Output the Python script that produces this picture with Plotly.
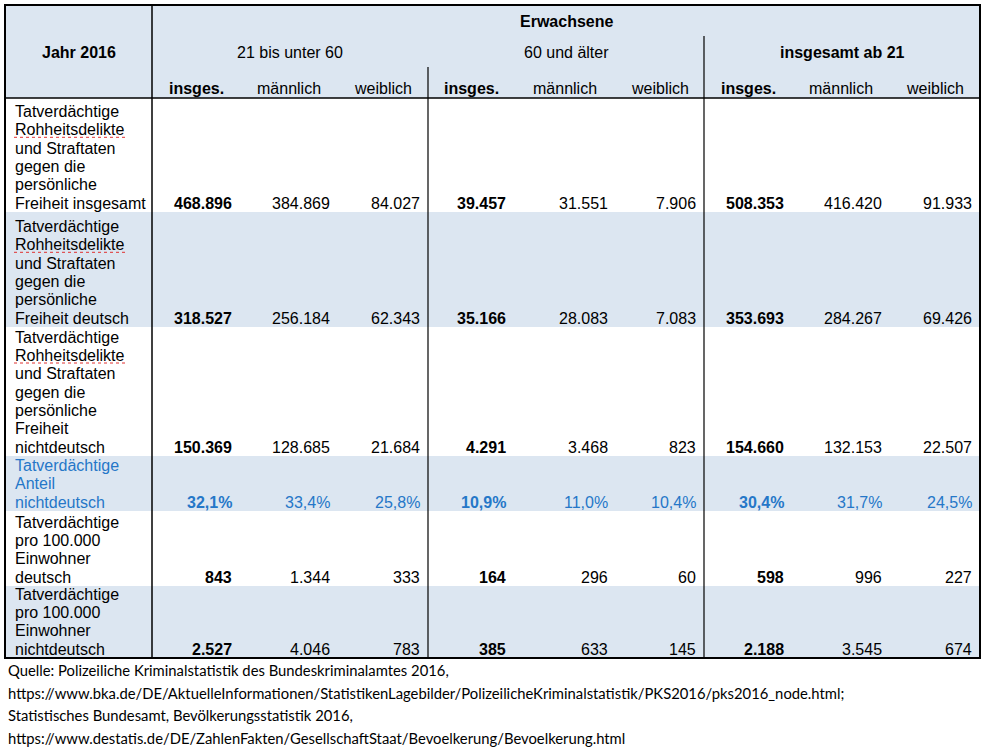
import plotly.graph_objects as go

# =========================
# DATEN
# =========================
gruppen = ["21 bis unter 60", "60 und älter", "insgesamt ab 21"]
unterspalten = ["insges.", "männlich", "weiblich"]

zeilen_text = [
    ["Tatverdächtige", "Rohheitsdelikte", "und Straftaten", "gegen die", "persönliche", "Freiheit insgesamt"],
    ["Tatverdächtige", "Rohheitsdelikte", "und Straftaten", "gegen die", "persönliche", "Freiheit deutsch"],
    ["Tatverdächtige", "Rohheitsdelikte", "und Straftaten", "gegen die", "persönliche", "Freiheit", "nichtdeutsch"],
    ["Tatverdächtige", "Anteil", "nichtdeutsch"],
    ["Tatverdächtige", "pro 100.000", "Einwohner", "deutsch"],
    ["Tatverdächtige", "pro 100.000", "Einwohner", "nichtdeutsch"],
]

tv_insgesamt = [468896, 384869, 84027, 39457, 31551, 7906, 508353, 416420, 91933]
tv_deutsch = [318527, 256184, 62343, 35166, 28083, 7083, 353693, 284267, 69426]
tv_nichtdeutsch = [150369, 128685, 21684, 4291, 3468, 823, 154660, 132153, 22507]
anteil_nichtdeutsch = [32.1, 33.4, 25.8, 10.9, 11.0, 10.4, 30.4, 31.7, 24.5]
pro100k_deutsch = [843, 1344, 333, 164, 296, 60, 598, 996, 227]
pro100k_nichtdeutsch = [2527, 4046, 783, 385, 633, 145, 2188, 3545, 674]

quelle = [
    "Quelle: Polizeiliche Kriminalstatistik des Bundeskriminalamtes 2016,",
    "https://www.bka.de/DE/AktuelleInformationen/StatistikenLagebilder/PolizeilicheKriminalstatistik/PKS2016/pks2016_node.html;",
    "Statistisches Bundesamt, Bevölkerungsstatistik 2016,",
    "https://www.destatis.de/DE/ZahlenFakten/GesellschaftStaat/Bevoelkerung/Bevoelkerung.html",
]


def fmt_zahl(v):
    return f"{v:,}".replace(",", ".")


def fmt_prozent(v):
    return f"{v:.1f}".replace(".", ",") + "%"


zeilen_werte = [
    [fmt_zahl(v) for v in tv_insgesamt],
    [fmt_zahl(v) for v in tv_deutsch],
    [fmt_zahl(v) for v in tv_nichtdeutsch],
    [fmt_prozent(v) for v in anteil_nichtdeutsch],
    [fmt_zahl(v) for v in pro100k_deutsch],
    [fmt_zahl(v) for v in pro100k_nichtdeutsch],
]

# =========================
# LAYOUT (Pixelraster)
# =========================
W, H = 987, 751
LINKS, OBEN, RECHTS = 5, 5, 980
KOPF_UNTEN = 98
spalten_kanten = [152, 240, 338, 428, 514, 616, 704, 792, 890, 980]
zeilen_kanten = [98, 212, 327, 456, 511, 586, 658]
ZEILEN_HOEHE = 18.3
BLAU_BG = "#DCE6F1"
BLAU_TEXT = "#2577C8"
SCHRIFT = "Liberation Sans, Arial, sans-serif"

fig = go.Figure()
shapes = []
annots = []


def text(x, y, t, size=16, bold=False, color="black", xanchor="center", family=SCHRIFT):
    if bold:
        t = f"<b>{t}</b>"
    annots.append(dict(x=x, y=y, text=t, showarrow=False, xanchor=xanchor, yanchor="middle",
                       font=dict(size=size, color=color, family=family), borderpad=0))


# Hintergründe
shapes.append(dict(type="rect", x0=LINKS, x1=RECHTS, y0=OBEN, y1=KOPF_UNTEN,
                   fillcolor=BLAU_BG, line=dict(width=0), layer="below"))
for i in range(len(zeilen_text)):
    if i % 2 == 1:
        shapes.append(dict(type="rect", x0=LINKS, x1=RECHTS, y0=zeilen_kanten[i], y1=zeilen_kanten[i + 1],
                           fillcolor=BLAU_BG, line=dict(width=0), layer="below"))

unten = zeilen_kanten[-1]
# Linien
linie = dict(color="black", width=1.5)
shapes.append(dict(type="rect", x0=LINKS, x1=RECHTS, y0=OBEN, y1=unten, line=dict(color="black", width=2)))
shapes.append(dict(type="line", x0=spalten_kanten[0], x1=spalten_kanten[0], y0=OBEN, y1=unten, line=linie))
shapes.append(dict(type="line", x0=LINKS, x1=RECHTS, y0=KOPF_UNTEN, y1=KOPF_UNTEN, line=linie))
shapes.append(dict(type="line", x0=spalten_kanten[3], x1=spalten_kanten[3], y0=67, y1=unten, line=dict(color="black", width=1.2)))
shapes.append(dict(type="line", x0=spalten_kanten[6], x1=spalten_kanten[6], y0=36, y1=unten, line=dict(color="black", width=1.2)))

# Kopf
text((LINKS + spalten_kanten[0]) / 2, 52, "Jahr 2016", bold=True)
text((spalten_kanten[0] + RECHTS) / 2, 21, "Erwachsene", bold=True)
for g, name in enumerate(gruppen):
    mitte = (spalten_kanten[3 * g] + spalten_kanten[3 * g + 3]) / 2
    text(mitte, 52, name, bold=(g == 2))
    for k, u in enumerate(unterspalten):
        j = 3 * g + k
        text((spalten_kanten[j] + spalten_kanten[j + 1]) / 2, 88, u, bold=(k == 0))

# Zeilen
for i, (zeilen, werte) in enumerate(zip(zeilen_text, zeilen_werte)):
    farbe = BLAU_TEXT if i == 3 else "black"
    y_letzte = zeilen_kanten[i + 1] - 9
    n = len(zeilen)
    for k, z in enumerate(zeilen):
        y = y_letzte - (n - 1 - k) * ZEILEN_HOEHE
        text(14, y, z, color=farbe, xanchor="left")
        if z == "Rohheitsdelikte":
            shapes.append(dict(type="line", x0=14, x1=125, y0=y + 7.5, y1=y + 7.5,
                               line=dict(color="#E03030", width=1, dash="dot")))
    for j, w in enumerate(werte):
        text(spalten_kanten[j + 1] - 7, y_letzte, w, color=farbe, bold=(j % 3 == 0), xanchor="right")

# Quelle
for k, q in enumerate(quelle):
    text(7, 670 + k * 22.5, q, size=14.8, xanchor="left", family="Lato, Carlito, Calibri, sans-serif")

fig.update_layout(
    width=W, height=H,
    margin=dict(l=0, r=0, t=0, b=0),
    paper_bgcolor="white", plot_bgcolor="white",
    xaxis=dict(range=[0, W], visible=False, fixedrange=True),
    yaxis=dict(range=[H, 0], visible=False, fixedrange=True),
    shapes=shapes,
    annotations=annots,
    showlegend=False,
)

fig.write_html("out.html", config={"displayModeBar": False},
               post_script="document.body.style.margin='0';document.body.style.overflow='hidden';")
